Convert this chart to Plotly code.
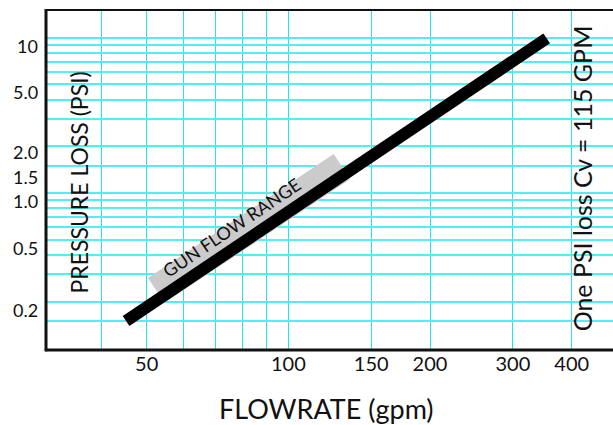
import math
import plotly.graph_objects as go

# ---- data ----
flow_gpm = [45.2, 354]            # black curve end points (gpm)
loss_psi = [0.150, 9.9]           # pressure loss at those flows (psi)

gun_flow_gpm = [52.4, 130]        # gun flow range band
gun_loss_psi = [0.236, 1.48]

x_grid = [40, 50, 60, 70, 80, 90, 100, 150, 200, 300, 400]
x_labels = ["", "50", "", "", "", "", "100", "150", "200", "300", "400"]

y_grid = [0.15, 0.2, 0.3, 0.4, 0.5, 0.6, 0.7, 0.8, 0.9, 1.0, 1.5,
          2, 3, 4, 5, 6, 7, 8, 9, 10]
y_label_vals = [10, 5.0, 2.0, 1.5, 1.0, 0.5, 0.2]
y_label_text = ["10", "5.0", "2.0", "1.5", "1.0", "0.5", "0.2"]

x_range = [30.55, 489.6]
y_range = [0.0975, 15.08]

gun_label_q = 76.0
gun_label_p = 0.60

FONT = "Lato"

fig = go.Figure()

fig.add_trace(go.Scatter(
    x=gun_flow_gpm, y=gun_loss_psi, mode="lines",
    line=dict(color="#cbcbcb", width=30), hoverinfo="skip"))

fig.add_trace(go.Scatter(
    x=flow_gpm, y=loss_psi, mode="lines",
    line=dict(color="black", width=12), hoverinfo="skip"))

# the printed labels sit a little below their grid lines; 1.5 a bit further
label_shift = {"2.0": -6, "1.5": -11}

annotations = []
for v, t in zip(y_label_vals, y_label_text):
    annotations.append(dict(
        x=0, xref="paper", y=math.log10(v), yref="y",
        text=t, showarrow=False, xanchor="right", yanchor="middle",
        xshift=-7, yshift=label_shift.get(t, -8), borderpad=0,
        font=dict(family=FONT, size=18, color="#111")))

annotations.append(dict(
    x=math.log10(gun_label_q), y=math.log10(gun_label_p), xref="x", yref="y",
    text="GUN FLOW RANGE", showarrow=False, textangle=-34,
    font=dict(family=FONT, size=18, color="#111")))

annotations.append(dict(
    x=0.0582, y=0.4926, xref="paper", yref="paper",
    text="PRESSURE LOSS (PSI)", showarrow=False, textangle=-90,
    xanchor="center", yanchor="middle",
    font=dict(family=FONT, size=23, color="#111")))

annotations.append(dict(
    x=0.946, y=0.506, xref="paper", yref="paper",
    text="One PSI loss Cv = 115 GPM", showarrow=False, textangle=-90,
    xanchor="center", yanchor="middle",
    font=dict(family=FONT, size=25, color="#111")))

annotations.append(dict(
    x=0.494, y=-0.1706, xref="paper", yref="paper",
    text="FLOWRATE (gpm)", showarrow=False,
    xanchor="center", yanchor="middle",
    font=dict(family=FONT, size=27, color="#111")))

shapes = [
    dict(type="line", xref="paper", yref="paper", x0=0, x1=0, y0=-0.004, y1=1.003,
         line=dict(color="#111", width=3)),
    dict(type="line", xref="paper", yref="paper", x0=-0.002, x1=1, y0=0, y1=0,
         line=dict(color="#111", width=3)),
    dict(type="line", xref="paper", yref="paper", x0=-0.002, x1=1, y0=1, y1=1,
         line=dict(color="#111", width=2)),
]

fig.update_layout(
    width=613, height=425,
    margin=dict(l=46, r=0, t=10, b=75),
    paper_bgcolor="white", plot_bgcolor="white",
    showlegend=False,
    annotations=annotations, shapes=shapes,
    xaxis=dict(type="log", range=[math.log10(x_range[0]), math.log10(x_range[1])],
               tickvals=x_grid, ticktext=x_labels, ticks="",
               showgrid=True, gridcolor="#22e6ee", gridwidth=1.3,
               zeroline=False, showline=False,
               tickfont=dict(family=FONT, size=20, color="#111")),
    yaxis=dict(type="log", range=[math.log10(y_range[0]), math.log10(y_range[1])],
               tickvals=y_grid, showticklabels=False, ticks="",
               showgrid=True, gridcolor="#50eff3", gridwidth=1.8,
               zeroline=False, showline=False),
)

fig.write_html("out.html",
               config={"displayModeBar": False},
               post_script="document.body.style.margin='0';"
                           "document.body.style.overflow='hidden';")
